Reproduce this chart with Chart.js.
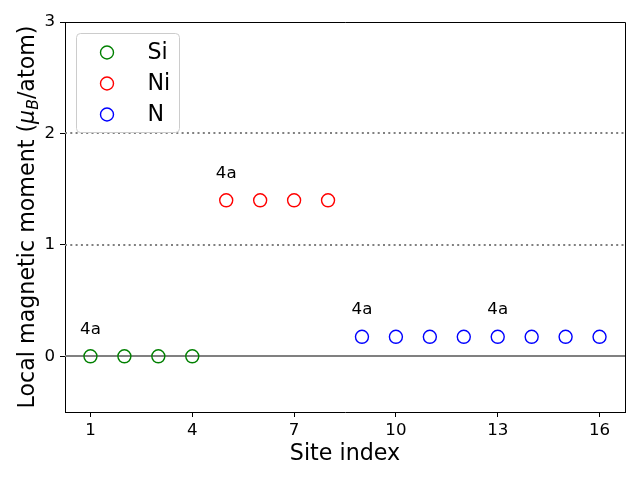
<!DOCTYPE html>
<html>
<head>
<meta charset="utf-8">
<script src="https://cdn.jsdelivr.net/npm/chart.js@4"></script>
<style>
  html, body { margin: 0; padding: 0; background: #fff; }
</style>
</head>
<body>
<canvas id="moments" width="640" height="480"></canvas>
<script>
// local moments per site, one group per species
const siSites = [1, 2, 3, 4];
const siMoments = [0.0, 0.0, 0.0, 0.0];
const niSites = [5, 6, 7, 8];
const niMoments = [1.40, 1.40, 1.40, 1.40];
const nSites = [9, 10, 11, 12, 13, 14, 15, 16];
const nMoments = [0.175, 0.175, 0.175, 0.175, 0.175, 0.175, 0.175, 0.175];

const xTicks = [1, 4, 7, 10, 13, 16];
const yTicks = [0, 1, 2, 3];

// wyckoff labels, put a bit above the first site of each group
const wyckoffSites = [1, 5, 9, 13];
const wyckoffText = ['4a', '4a', '4a', '4a'];
const labelLift = 0.24;

// reference lines
const dottedLevels = [1, 2];
const zeroLevel = 0;

const FONT = "'DejaVu Sans', sans-serif";
const TICK_PX = 16.67;
const TITLE_PX = 22.2;

const toPoints = (xs, ys) => xs.map((x, i) => ({ x: x, y: ys[i] }));
const allSites = siSites.concat(niSites, nSites);
const allMoments = siMoments.concat(niMoments, nMoments);

function circleSet(label, xs, ys, color) {
    return {
        label: label,
        data: toPoints(xs, ys),
        borderColor: color,
        backgroundColor: 'rgba(0,0,0,0)',
        pointStyle: 'circle',
        pointRadius: 6.5,
        pointHoverRadius: 6.5,
        pointBorderWidth: 1.4,
        showLine: false
    };
}

// lines, spines, labels and the legend box drawn on top of the scales
const decorations = {
    id: 'decorations',
    beforeDatasetsDraw(chart) {
        const { ctx, chartArea: a, scales: { y } } = chart;
        ctx.save();
        ctx.strokeStyle = '#808080';
        ctx.lineWidth = 2;
        ctx.setLineDash([2, 3.3]);
        dottedLevels.forEach(v => {
            const py = Math.round(y.getPixelForValue(v));
            ctx.beginPath();
            ctx.moveTo(a.left, py);
            ctx.lineTo(a.right, py);
            ctx.stroke();
        });
        ctx.setLineDash([]);
        ctx.lineWidth = 2;
        const pz = Math.round(y.getPixelForValue(zeroLevel));
        ctx.beginPath();
        ctx.moveTo(a.left, pz);
        ctx.lineTo(a.right, pz);
        ctx.stroke();
        ctx.restore();
    },
    afterDraw(chart) {
        const { ctx, chartArea: a, scales: { x, y } } = chart;
        ctx.save();

        // top and right spines
        ctx.strokeStyle = '#000';
        ctx.lineWidth = 1;
        ctx.beginPath();
        ctx.moveTo(a.left, a.top + 0.5);
        ctx.lineTo(a.right + 0.5, a.top + 0.5);
        ctx.lineTo(a.right + 0.5, a.bottom);
        ctx.stroke();

        // 4a labels
        ctx.fillStyle = '#000';
        ctx.font = TICK_PX + 'px ' + FONT;
        ctx.textAlign = 'center';
        ctx.textBaseline = 'middle';
        wyckoffSites.forEach((s, i) => {
            const m = allMoments[allSites.indexOf(s)];
            ctx.fillText(wyckoffText[i], x.getPixelForValue(s), y.getPixelForValue(m + labelLift));
        });

        // legend, upper left inside the axes
        const bx = a.left + 11.5, by = a.top + 11.5, bw = 103, bh = 99;
        ctx.beginPath();
        ctx.roundRect(bx, by, bw, bh, 4);
        ctx.fillStyle = 'rgba(255,255,255,0.8)';
        ctx.fill();
        ctx.strokeStyle = '#cccccc';
        ctx.lineWidth = 1;
        ctx.stroke();
        ctx.font = TITLE_PX + 'px ' + FONT;
        ctx.textAlign = 'left';
        ctx.textBaseline = 'middle';
        chart.data.datasets.forEach((ds, i) => {
            const ly = by + 19 + i * 31;
            ctx.beginPath();
            ctx.arc(bx + 30.5, ly, 6.5, 0, Math.PI * 2);
            ctx.strokeStyle = ds.borderColor;
            ctx.lineWidth = 1.4;
            ctx.stroke();
            ctx.fillStyle = '#000';
            ctx.fillText(ds.label, bx + 71, ly + 1);
        });

        // y title with mu_B written as italic mu and a lowered B
        const parts = [
            { t: 'Local magnetic moment (', f: TITLE_PX + 'px ' + FONT, dy: 0 },
            { t: 'μ', f: 'italic ' + TITLE_PX + 'px ' + FONT, dy: 0 },
            { t: 'B', f: 'italic ' + (TITLE_PX * 0.7) + 'px ' + FONT, dy: 4.5 },
            { t: '/atom)', f: TITLE_PX + 'px ' + FONT, dy: 0 }
        ];
        let total = 0;
        parts.forEach(p => { ctx.font = p.f; p.w = ctx.measureText(p.t).width; total += p.w; });
        ctx.translate(33.5, (a.top + a.bottom) / 2);
        ctx.rotate(-Math.PI / 2);
        ctx.textAlign = 'left';
        ctx.textBaseline = 'alphabetic';
        ctx.fillStyle = '#000';
        let cx = -total / 2;
        parts.forEach(p => {
            ctx.font = p.f;
            ctx.fillText(p.t, cx, p.dy);
            cx += p.w;
        });
        ctx.restore();
    }
};

new Chart(document.getElementById('moments'), {
    type: 'scatter',
    data: {
        datasets: [
            circleSet('Si', siSites, siMoments, '#008000'),
            circleSet('Ni', niSites, niMoments, '#ff0000'),
            circleSet('N', nSites, nMoments, '#0000ff')
        ]
    },
    options: {
        responsive: false,
        animation: false,
        layout: { padding: { left: 0, right: 15, top: 22, bottom: 0 } },
        plugins: {
            legend: { display: false },
            tooltip: { enabled: false }
        },
        scales: {
            x: {
                type: 'linear',
                min: 0.25,
                max: 16.75,
                afterBuildTicks: s => { s.ticks = xTicks.map(v => ({ value: v })); },
                afterFit: s => { s.height = 68; },
                ticks: { font: { size: TICK_PX, family: FONT }, color: '#000', padding: 4, autoSkip: false, maxRotation: 0 },
                grid: { drawOnChartArea: false, tickLength: 5, tickColor: '#000', tickWidth: 1 },
                border: { color: '#000', width: 1 },
                title: { display: true, text: 'Site index', color: '#000', font: { size: TITLE_PX, family: FONT }, padding: { top: 0, bottom: 12 } }
            },
            y: {
                type: 'linear',
                min: -0.5,
                max: 3,
                afterBuildTicks: s => { s.ticks = yTicks.map(v => ({ value: v })); },
                afterFit: s => { s.width = 65; },
                ticks: { font: { size: TICK_PX, family: FONT }, color: '#000', padding: 5 },
                grid: { drawOnChartArea: false, tickLength: 5, tickColor: '#000', tickWidth: 1 },
                border: { color: '#000', width: 1 },
                title: { display: false }
            }
        }
    },
    plugins: [decorations]
});
</script>
</body>
</html>
